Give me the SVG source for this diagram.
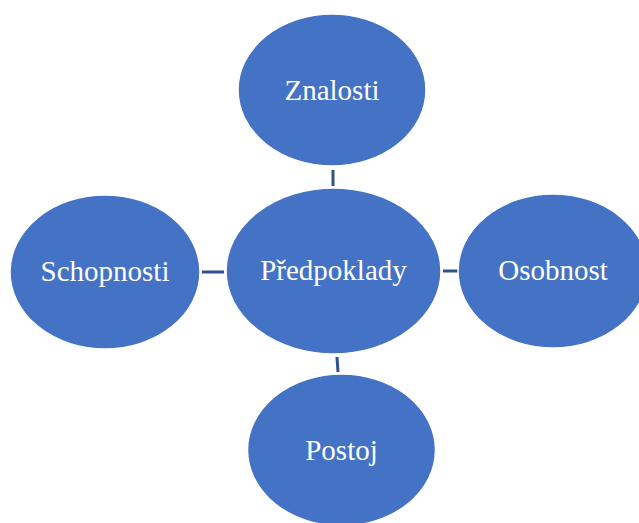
<svg xmlns="http://www.w3.org/2000/svg" width="639" height="523" viewBox="0 0 639 523">
<style>
.n{fill:#4472C4;stroke:#fff;stroke-width:1.5}
.t{fill:#fff;font-family:'Liberation Serif','Times New Roman',serif;font-size:29px;text-anchor:middle}
.c{stroke:#2F528F;stroke-width:3;fill:none}
</style>
<rect width="639" height="523" fill="#fff"/>
<g id="connectors">
<line class="c" x1="333" y1="170" x2="333" y2="186"/>
<line class="c" x1="202" y1="272" x2="224" y2="272"/>
<line class="c" x1="443" y1="271" x2="458" y2="271"/>
<line class="c" x1="337" y1="357" x2="338" y2="372"/>
</g>
<g id="znalosti"><ellipse class="n" cx="332" cy="90" rx="94" ry="76"/><text class="t" x="332" y="100">Znalosti</text></g>
<g id="predpoklady"><ellipse class="n" cx="333.5" cy="271" rx="107.5" ry="83"/><text class="t" x="333.5" y="280">Předpoklady</text></g>
<g id="schopnosti"><ellipse class="n" cx="105" cy="272" rx="95" ry="77"/><text class="t" x="105" y="281">Schopnosti</text></g>
<g id="osobnost"><ellipse class="n" cx="553" cy="271" rx="95" ry="77"/><text class="t" x="553" y="280">Osobnost</text></g>
<g id="postoj"><ellipse class="n" cx="341.5" cy="450" rx="94" ry="76"/><text class="t" x="341.5" y="460">Postoj</text></g>
</svg>
